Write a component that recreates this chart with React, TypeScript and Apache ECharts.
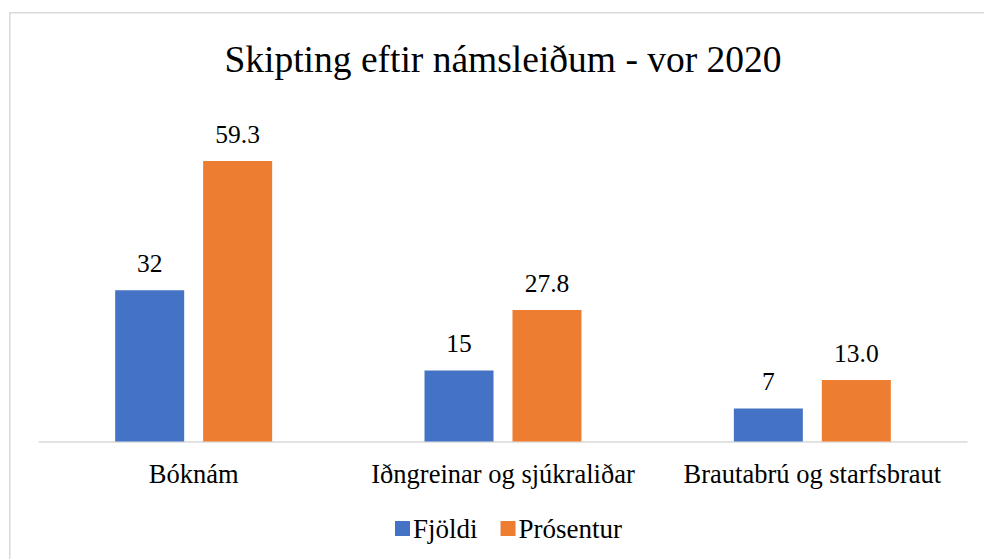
import React, { useEffect, useRef } from "react";
import * as echarts from "echarts";

const categories = ["Bóknám", "Iðngreinar og sjúkraliðar", "Brautabrú og starfsbraut"];
const fjoldi = [32, 15, 7];
const prosentur = [59.3, 27.8, 13.0];
const seriesNames = ["Fjöldi", "Prósentur"];
const titleText = "Skipting eftir námsleiðum - vor 2020";

const FONT = "Liberation Serif";

export default function App() {
  const ref = useRef<HTMLDivElement>(null);
  useEffect(() => {
    document.body.style.margin = "0";
    if (!ref.current) return;
    const chart = echarts.init(ref.current, undefined, { renderer: "svg" });
    chart.setOption({
      animation: false,
      backgroundColor: "#ffffff",
      textStyle: { fontFamily: FONT, color: "#000" },
      title: {
        text: titleText,
        left: 498,
        textAlign: "center",
        top: 35,
        textStyle: { fontFamily: FONT, fontSize: 37.5, fontWeight: "normal", color: "#000" },
      },
      graphic: [
        {
          type: "rect",
          shape: { x: 9.75, y: 12.75, width: 1000, height: 600 },
          style: { fill: "none", stroke: "#d9d9d9", lineWidth: 1.5 },
          silent: true,
        },
      ],
      legend: {
        data: seriesNames,
        left: 390,
        top: 510,
        itemWidth: 15,
        itemHeight: 15,
        itemGap: 23,
        icon: "rect",
        textStyle: { fontFamily: FONT, fontSize: 27, color: "#000", padding: [0, 0, 0, -2] },
      },
      grid: { left: 39, right: 17, top: 110.5, bottom: 117.5, containLabel: false },
      xAxis: {
        type: "category",
        data: categories,
        axisLine: { show: true, lineStyle: { color: "#d9d9d9", width: 1.5 } },
        axisTick: { show: false },
        axisLabel: { fontFamily: FONT, fontSize: 26.5, color: "#000", margin: 19, interval: 0 },
      },
      yAxis: {
        type: "value",
        min: 0,
        max: 70,
        interval: 10,
        show: false,
        splitLine: { show: false },
      },
      series: [
        {
          name: seriesNames[0],
          type: "bar",
          data: fjoldi,
          barWidth: 69,
          barGap: "27.5%",
          itemStyle: { color: "#4472C4" },
          label: {
            show: true,
            position: "top",
            distance: 14,
            fontFamily: FONT,
            fontSize: 25.5,
            color: "#000",
          },
        },
        {
          name: seriesNames[1],
          type: "bar",
          data: prosentur,
          barWidth: 69,
          barGap: "27.5%",
          itemStyle: { color: "#ED7D31" },
          label: {
            show: true,
            position: "top",
            distance: 14,
            fontFamily: FONT,
            fontSize: 25.5,
            color: "#000",
            formatter: (p: any) => Number(p.value).toFixed(1),
          },
        },
      ],
    });
    return () => chart.dispose();
  }, []);
  return <div ref={ref} style={{ width: 984, height: 559 }} />;
}
